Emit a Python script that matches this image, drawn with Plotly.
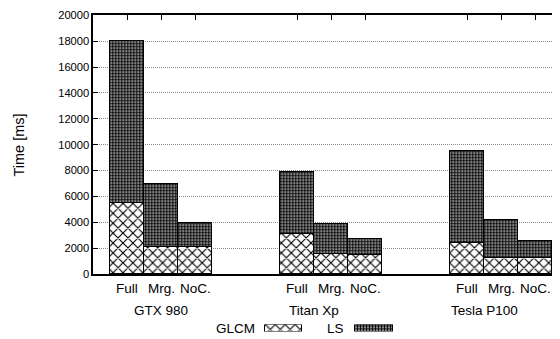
import plotly.graph_objects as go

gpus = ["GTX 980", "Titan Xp", "Tesla P100"]
variants = ["Full", "Mrg.", "NoC."]
glcm = [5500, 2050, 2050, 3050, 1500, 1450, 2400, 1200, 1200]
total = [18000, 6900, 3950, 7850, 3850, 2650, 9500, 4150, 2500]
ls = [t - g for t, g in zip(total, glcm)]
y_ticks = list(range(0, 20001, 2000))

# page body margin offset (8px) compensation
OFF = 8
W, H = 560 - OFF, 339 - OFF


def px(x):
    return (x - OFF) / W


def py(y):
    return 1 - (y - OFF) / H


x_pos = [g * 5 + v for g in range(3) for v in range(3)]
labels = [variants[v] for g in range(3) for v in range(3)]
group_x = [1.0, 5.5, 10.5]

FONT = "Liberation Sans, Arial, sans-serif"
glcm_pat = dict(shape="x", size=7, solidity=0.3, fgcolor="black", bgcolor="white", fillmode="replace")
ls_pat = dict(shape=".", size=3, solidity=0.7, fgcolor="black", bgcolor="white", fillmode="replace")

fig = go.Figure()
fig.add_trace(go.Bar(x=x_pos, y=glcm, width=1, name="GLCM",
                     marker=dict(color="white", pattern=glcm_pat, line=dict(color="black", width=1.5)),
                     showlegend=False))
fig.add_trace(go.Bar(x=x_pos, y=ls, width=1, name="LS",
                     marker=dict(color="white", pattern=ls_pat, line=dict(color="black", width=1.5)),
                     showlegend=False))
fig.add_trace(go.Scatter(x=[x_pos[0]], y=[0], xaxis="x2", mode="markers",
                         marker=dict(opacity=0), showlegend=False, hoverinfo="skip"))

fig.add_trace(go.Bar(y=[0], x=[37], base=[265], orientation="h", width=1, xaxis="x3", yaxis="y3",
                     marker=dict(color="white", pattern=glcm_pat, line=dict(color="black", width=1)),
                     showlegend=False))
fig.add_trace(go.Bar(y=[0], x=[38], base=[355], orientation="h", width=1, xaxis="x3", yaxis="y3",
                     marker=dict(color="white", pattern=ls_pat, line=dict(color="black", width=1)),
                     showlegend=False))

x0_px, x1_px = 93.3, 560
y_top, y_bot = 15.3, 274
xr = [-1, -1 + (x1_px - x0_px) / 34.0]

fig.update_layout(
    width=W, height=H,
    margin=dict(l=0, r=0, t=0, b=0, pad=0, autoexpand=False),
    paper_bgcolor="white", plot_bgcolor="white",
    barmode="stack", bargap=0,
    font=dict(family=FONT, color="black"),
    xaxis=dict(domain=[px(x0_px), px(x1_px)], range=xr, showticklabels=False, ticks="",
               showgrid=False, showline=True, linecolor="black", linewidth=1.5, zeroline=False,
               automargin=False),
    xaxis2=dict(overlaying="x", side="top", range=xr, tickvals=x_pos, ticks="inside", ticklen=5,
                tickcolor="black", tickwidth=1, showticklabels=False, showgrid=False,
                showline=True, linecolor="black", linewidth=1.5, zeroline=False, automargin=False),
    yaxis=dict(domain=[py(y_bot), py(y_top)], range=[0, 20000], tickvals=y_ticks,
               ticktext=[str(v) for v in y_ticks],
               ticks="inside", ticklen=5, tickcolor="black", tickfont=dict(size=11.2),
               showgrid=True, gridcolor="#8a8a8a", griddash="1px,1px", gridwidth=1,
               showline=True, linecolor="black", linewidth=1.5, zeroline=False, automargin=False),
    xaxis3=dict(domain=[0, 1], range=[OFF, 560], visible=False, anchor="y3", automargin=False),
    yaxis3=dict(domain=[py(331.5), py(324.5)], range=[-0.5, 0.5], visible=False,
                anchor="x3", automargin=False),
)

for xp, lab in zip(x_pos, labels):
    fig.add_annotation(x=xp, y=py(288), xref="x", yref="paper", text=lab, showarrow=False,
                       font=dict(size=13.5), yanchor="middle")
for gx, g in zip(group_x, gpus):
    fig.add_annotation(x=gx, y=py(310), xref="x", yref="paper", text=g, showarrow=False,
                       font=dict(size=13.5), yanchor="middle")
fig.add_annotation(x=px(18.5), y=py(145), xref="paper", yref="paper", text="Time [ms]",
                   textangle=-90, showarrow=False, font=dict(size=14.5), xanchor="center", yanchor="middle")
fig.add_annotation(x=px(257), y=py(328), xref="paper", yref="paper", text="GLCM",
                   xanchor="right", yanchor="middle", showarrow=False, font=dict(size=13.5))
fig.add_annotation(x=px(346), y=py(328), xref="paper", yref="paper", text="LS",
                   xanchor="right", yanchor="middle", showarrow=False, font=dict(size=13.5))

fig.write_html("out.html")
